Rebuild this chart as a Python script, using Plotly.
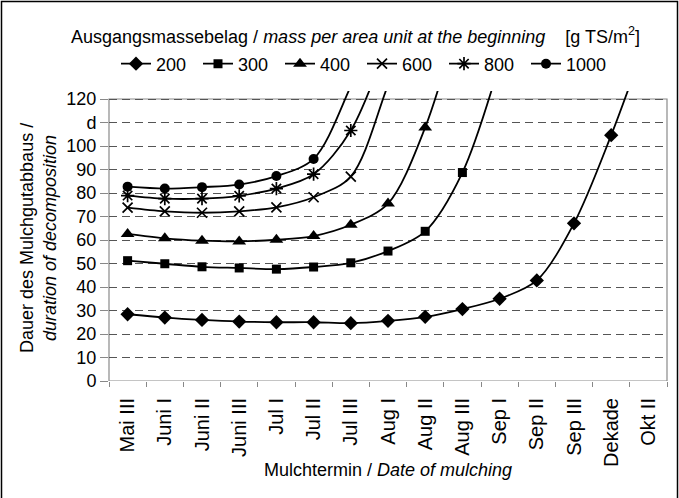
import plotly.graph_objects as go

categories = ["Mai III", "Juni I", "Juni II", "Juni III", "Jul I", "Jul II", "Jul III",
              "Aug I", "Aug II", "Aug III", "Sep I", "Sep II", "Sep III", "Dekade", "Okt II"]
y_tickvals = [0, 10, 20, 30, 40, 50, 60, 70, 80, 90, 100, 110, 120]
y_ticktext = ["0", "10", "20", "30", "40", "50", "60", "70", "80", "90", "100", "d", "120"]

series_names = ["200", "300", "400", "600", "800", "1000"]
v200 = [28.4, 27.0, 26.0, 25.3, 25.0, 25.0, 24.6, 25.6, 27.3, 30.6, 35.0, 42.8, 67.1, 104.6, 148]
v300 = [51.2, 49.9, 48.6, 48.1, 47.6, 48.5, 50.3, 55.3, 63.7, 88.7, 135]
v400 = [62.6, 60.7, 59.7, 59.4, 60.1, 61.7, 66.5, 75.5, 107.9, 160]
v600 = [73.8, 72.2, 71.6, 72.2, 73.9, 78.2, 87.0, 126, 170]
v800 = [78.9, 77.6, 77.6, 78.8, 81.9, 88.0, 106.6, 145]
v1000 = [82.7, 81.9, 82.5, 83.6, 87.2, 94.5, 125.5, 165]

series_values = [v200, v300, v400, v600, v800, v1000]
symbols = ["diamond", "square", "triangle-up", "x-thin-open", "asterisk-open", "circle"]
sizes = [11, 9, 12, 10, 11, 10]
line_w = [0, 0, 0, 1.7, 1.7, 0]

FONT = "Liberation Sans, Arial, sans-serif"
W, H = 679, 498
L, R, T, B = 109, 12, 91, 117
PW, PH = W - L - R, H - T - B
YMAX = 120 * PH / 282.0

fig = go.Figure()
for name, vals, sym, sz, lw in zip(series_names, series_values, symbols, sizes, line_w):
    fig.add_trace(go.Scatter(
        x=categories[:len(vals)], y=vals, name=name, mode="lines+markers",
        line=dict(color="black", width=1.8, shape="spline", smoothing=0.9),
        marker=dict(symbol=sym, size=sz, color="black", line=dict(color="black", width=lw)),
    ))

def px_x(p):
    return (p - L) / PW

def px_y(p):
    return (H - B - p) / PH

fig.update_layout(
    width=W, height=H,
    margin=dict(l=L, r=R, t=T, b=B, autoexpand=False),
    paper_bgcolor="white", plot_bgcolor="white",
    font=dict(family=FONT, size=18, color="black"),
    showlegend=True,
    legend=dict(orientation="h", x=px_x(116), xanchor="left", y=px_y(64), yanchor="middle",
                font=dict(size=18), entrywidth=37, entrywidthmode="pixels",
                bgcolor="rgba(0,0,0,0)", itemclick=False),
    xaxis=dict(type="category", categoryorder="array", categoryarray=categories,
               range=[-0.5, 14.5], tickson="boundaries", ticks="outside", ticklen=5,
               tickcolor="#888", tickangle=-90, ticklabelstandoff=12,
               showgrid=False, showline=False, zeroline=False,
               tickfont=dict(size=20, color="black")),
    yaxis=dict(range=[0, YMAX], tickvals=y_tickvals, ticktext=y_ticktext,
               ticks="outside", ticklen=8, tickcolor="#888",
               showgrid=True, gridcolor="#555", griddash="8px,5px", gridwidth=1,
               showline=False, zeroline=False, tickfont=dict(size=18, color="black")),
    shapes=[
        dict(type="rect", xref="paper", yref="y", x0=0, x1=1, y0=0, y1=120,
             line=dict(color="#8a8a8a", width=1.2), layer="between"),
        dict(type="rect", xref="paper", yref="paper", x0=px_x(1.5), x1=px_x(677.5),
             y0=px_y(1.5), y1=px_y(510), line=dict(color="black", width=1.5)),
    ],
    annotations=[
        dict(text="Ausgangsmassebelag / <i>mass per area unit at the beginning</i>\u00a0\u00a0\u00a0\u00a0[g TS/m<sup>2</sup>]",
             xref="paper", yref="paper", x=px_x(355), y=px_y(35), xanchor="center", yanchor="middle",
             showarrow=False, font=dict(size=18)),
        dict(text="Mulchtermin / <i>Date of mulching</i>",
             xref="paper", yref="paper", x=px_x(388), y=px_y(470), xanchor="center", yanchor="middle",
             showarrow=False, font=dict(size=18)),
        dict(text="Dauer des Mulchgutabbaus /<br><i>duration of decomposition</i>",
             xref="paper", yref="paper", x=px_x(38), y=px_y(238), xanchor="center", yanchor="middle",
             textangle=-90, showarrow=False, font=dict(size=18)),
    ],
)

fig.write_html("out.html", config={"displayModeBar": False},
               post_script="document.body.style.margin='0';")
